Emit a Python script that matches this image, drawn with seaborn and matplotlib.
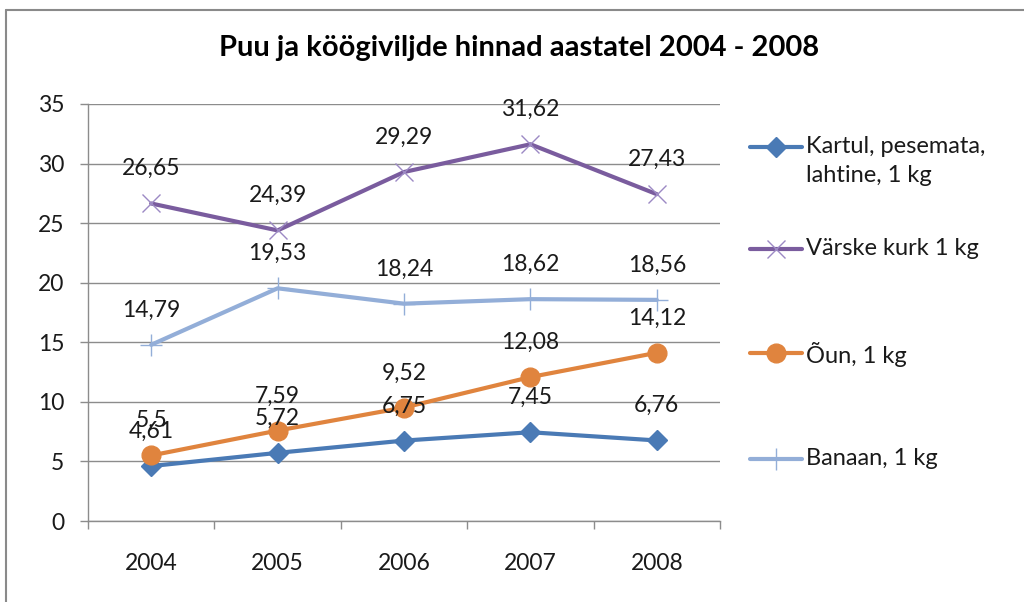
import pandas as pd
import matplotlib
matplotlib.use("Agg")
import matplotlib.pyplot as plt
from matplotlib.lines import Line2D
import seaborn as sns

# -------------------- DATA --------------------
years = ["2004", "2005", "2006", "2007", "2008"]
kartul = [4.61, 5.72, 6.75, 7.45, 6.76]
kurk = [26.65, 24.39, 29.29, 31.62, 27.43]
oun = [5.5, 7.59, 9.52, 12.08, 14.12]
banaan = [14.79, 19.53, 18.24, 18.62, 18.56]
series_names = ["Kartul, pesemata,\nlahtine, 1 kg", "Värske kurk 1 kg", "Õun, 1 kg", "Banaan, 1 kg"]
title = "Puu ja köögiviljde hinnad aastatel 2004 - 2008"

# styles per series: line colour, marker, marker size, marker edge colour, marker edge width
styles = {
    series_names[0]: dict(color="#4A7AB5", marker="D", ms=10, mec="#4A7AB5", mew=1),
    series_names[1]: dict(color="#7A5C9E", marker="x", ms=13, mec="#9C89C4", mew=1),
    series_names[2]: dict(color="#E0843E", marker="o", ms=13.5, mec="#E0843E", mew=1),
    series_names[3]: dict(color="#93AED8", marker="+", ms=16, mec="#93AED8", mew=1),
}

df = pd.concat([
    pd.DataFrame({"year": years, "value": vals, "series": name, "pos": range(len(years))})
    for name, vals in zip(series_names, [kartul, kurk, oun, banaan])
])

sns.set_theme(style="white")
plt.rcParams["font.family"] = ["Lato", "DejaVu Sans"]

fig = plt.figure(figsize=(10.24, 6.02), dpi=100)
ax = fig.add_axes([88 / 1024, 1 - 521 / 602, (720 - 88) / 1024, (521 - 104) / 602])

grid_col = "#8C8C8C"
text_col = "#1a1a1a"
ax.set_ylim(0, 35)
ax.set_xlim(-0.5, len(years) - 0.5)
ax.set_yticks(range(0, 36, 5))
ax.yaxis.grid(True, color=grid_col, lw=1)
ax.set_axisbelow(True)

sns.lineplot(data=df, x="pos", y="value", hue="series", palette=[styles[n]["color"] for n in series_names],
             lw=3, legend=False, ax=ax, zorder=3)

# markers and data labels
for name, vals in zip(series_names, [kartul, kurk, oun, banaan]):
    st = styles[name]
    ax.plot(range(len(vals)), vals, ls="none", marker=st["marker"], ms=st["ms"],
            mfc=st["color"], mec=st["mec"], mew=st["mew"], zorder=4)
    for i, v in enumerate(vals):
        ax.annotate(str(v).replace(".", ","), (i, v), xytext=(0, 25), textcoords="offset points",
                    ha="center", va="center", fontsize=16.5, color=text_col, zorder=5)

# axes styling (Excel look)
for side in ["top", "right"]:
    ax.spines[side].set_visible(False)
for side in ["left", "bottom"]:
    ax.spines[side].set_color(grid_col)
    ax.spines[side].set_linewidth(1)

ax.set_xticks([i - 0.5 for i in range(len(years) + 1)])
ax.set_xticklabels([])
ax.set_xticks(range(len(years)), minor=True)
ax.set_xticklabels(years, minor=True)
ax.tick_params(axis="x", which="major", length=6, width=1, color=grid_col, direction="out", bottom=True)
ax.tick_params(axis="x", which="minor", length=0, pad=23, labelsize=16.5, labelcolor=text_col)
ax.tick_params(axis="y", length=6, width=1, color=grid_col, direction="out", left=True,
               pad=11, labelsize=16.5, labelcolor=text_col)
ax.set_xlabel("")
ax.set_ylabel("")

fig.text(519 / 1024, 1 - 48 / 602, title, ha="center", va="center", fontsize=21, fontweight="bold",
         color="#000000")

# legend drawn to look like Excel's (marker on first text line)
leg_y = [147, 249, 353, 459]
for name, y in zip(series_names, leg_y):
    st = styles[name]
    yf = 1 - y / 602
    fig.add_artist(Line2D([750 / 1024, 802 / 1024], [yf, yf], color=st["color"], lw=3))
    fig.add_artist(Line2D([776 / 1024], [yf], ls="none", marker=st["marker"], ms=st["ms"],
                          mfc=st["color"], mec=st["mec"], mew=st["mew"]))
    fig.text(806 / 1024, yf + 11 / 602, name, ha="left", va="top", fontsize=17, color=text_col,
             linespacing=1.5)

# chart frame (left and top edges visible)
frame_col = "#8A8A8A"
fig.add_artist(Line2D([6 / 1024, 6 / 1024], [0, 1 - 10 / 602], color=frame_col, lw=1.5))
fig.add_artist(Line2D([6 / 1024, 1], [1 - 10 / 602, 1 - 10 / 602], color=frame_col, lw=1.5))

fig.savefig("out.png", dpi=100, facecolor="white")
